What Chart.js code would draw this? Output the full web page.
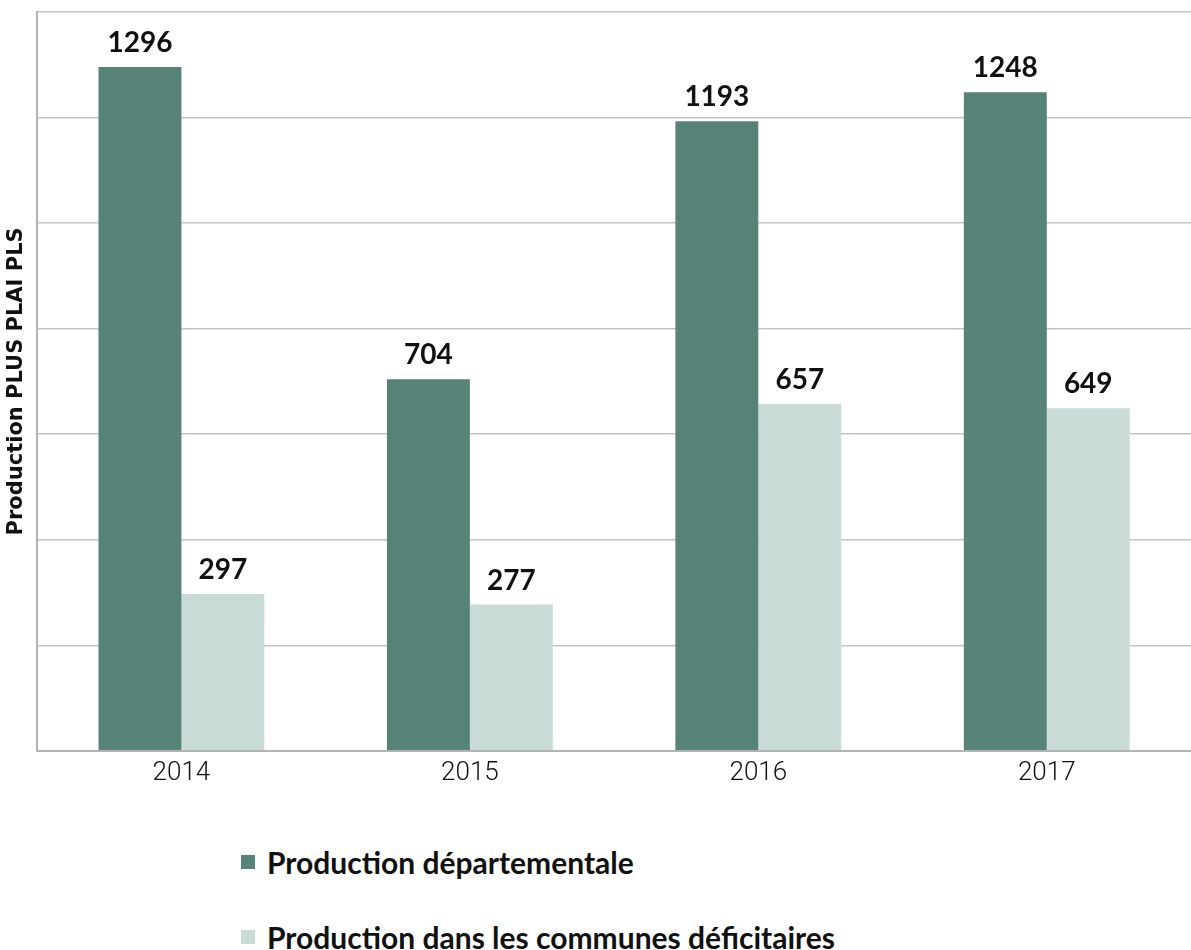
<!DOCTYPE html>
<html>
<head>
<meta charset="utf-8">
<script src="https://cdn.jsdelivr.net/npm/chart.js@4.4.0/dist/chart.umd.min.js"></script>
<style>
  body { margin: 0; background: #fff; font-family: Lato, sans-serif; }
  #wrap { position: relative; width: 1191px; height: 800px; }
  #legend { margin-left: 241px; padding-top: 24px; }
  .item { display: flex; align-items: center; height: 75px; font-weight: bold; font-size: 30px; color: #111; }
  .box { width: 14px; height: 14px; margin-right: 12px; }
</style>
</head>
<body>
<div id="wrap"><canvas id="prodChart"></canvas></div>
<div id="legend"></div>
<script>
const years = ['2014', '2015', '2016', '2017'];
const departemental = [1296, 704, 1193, 1248];
const deficitaires = [297, 277, 657, 649];
const seriesNames = ['Production départementale', 'Production dans les communes déficitaires'];
const colors = ['#578278', '#c9dcd8'];

const valueLabels = {
  id: 'valueLabels',
  afterDatasetsDraw(chart) {
    const ctx = chart.ctx;
    ctx.save();
    ctx.font = 'bold 28px Lato';
    ctx.fillStyle = '#111';
    ctx.textAlign = 'center';
    ctx.textBaseline = 'bottom';
    chart.data.datasets.forEach((ds, i) => {
      chart.getDatasetMeta(i).data.forEach((bar, j) => {
        ctx.fillText(ds.data[j], bar.x, bar.y - 10);
      });
    });
    ctx.restore();
  }
};

const ctx = document.getElementById('prodChart').getContext('2d');
const chart = new Chart(ctx, {
  type: 'bar',
  data: {
    labels: years,
    datasets: [
      { label: seriesNames[0], data: departemental, backgroundColor: colors[0] },
      { label: seriesNames[1], data: deficitaires, backgroundColor: colors[1] }
    ]
  },
  options: {
    responsive: true,
    maintainAspectRatio: false,
    animation: false,
    layout: { padding: { top: 12, right: 0, bottom: 4, left: 0 } },
    datasets: { bar: { categoryPercentage: 0.575, barPercentage: 1 } },
    plugins: { legend: { display: false }, tooltip: { enabled: false } },
    scales: {
      x: {
        grid: { display: false, drawTicks: false },
        border: { display: true, color: '#b3b3b3', width: 2 },
        ticks: { padding: 7, color: '#111', font: { family: 'Roboto', weight: 300, size: 26 } }
      },
      y: {
        min: 0,
        max: 1400,
        ticks: { stepSize: 200, display: false },
        grid: { color: '#c4c4c4', lineWidth: 1.5, drawTicks: false },
        border: { display: true, color: '#b3b3b3', width: 2 },
        title: {
          display: true,
          text: 'Production PLUS PLAI PLS',
          color: '#111',
          font: { family: 'DejaVu Sans', weight: 'bold', size: 21 },
          padding: { top: 4, bottom: 8 }
        }
      }
    }
  },
  plugins: [valueLabels]
});

const legend = document.getElementById('legend');
seriesNames.forEach((name, i) => {
  const row = document.createElement('div');
  row.className = 'item';
  row.innerHTML = '<span class="box" style="background:' + colors[i] + '"></span>' + name;
  legend.appendChild(row);
});
</script>
</body>
</html>
